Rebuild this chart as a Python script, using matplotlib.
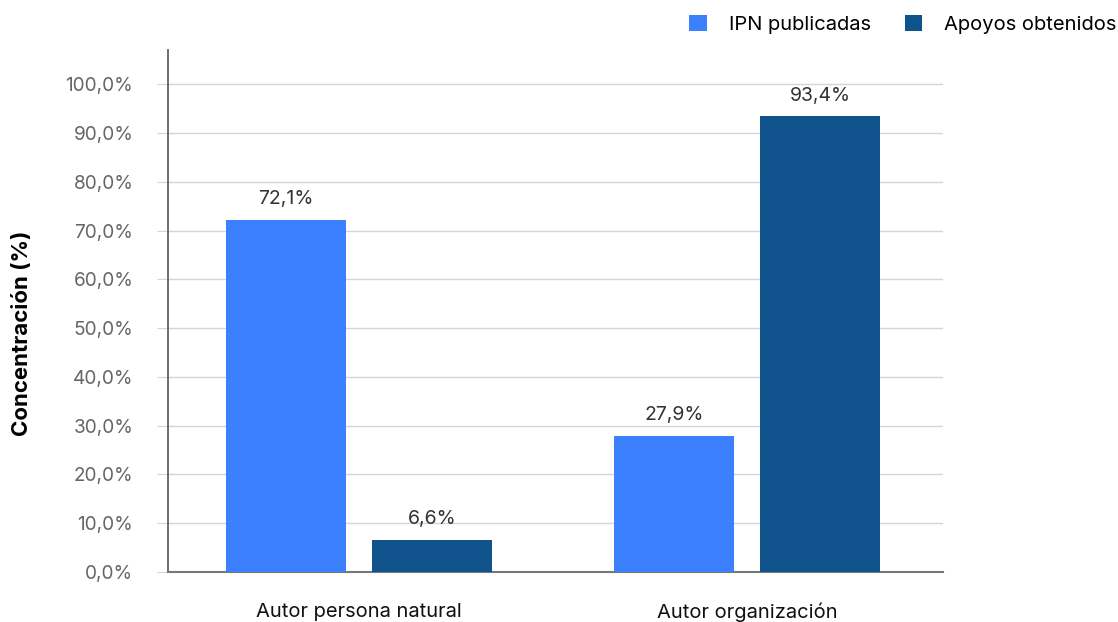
import matplotlib.pyplot as plt
import numpy as np

# data
categories = ["Autor persona natural", "Autor organización"]
series_names = ["IPN publicadas", "Apoyos obtenidos"]
ipn_publicadas = [72.1, 27.9]
apoyos_obtenidos = [6.6, 93.4]
y_ticks = [0, 10, 20, 30, 40, 50, 60, 70, 80, 90, 100]

colors = ["#3d80fe", "#0f528c"]
grid_col = "#d3d3e3"

plt.rcParams['font.family'] = ['Inter', 'DejaVu Sans']

fig = plt.figure(figsize=(11.18, 6.22), dpi=100)
ax = fig.add_axes([0.1503, 0.0804, 0.6932, 0.8392])

x = np.arange(len(categories))
w = 0.309
off = 0.188
b1 = ax.bar(x - off, ipn_publicadas, w, color=colors[0], label=series_names[0], zorder=3)
b2 = ax.bar(x + off, apoyos_obtenidos, w, color=colors[1], label=series_names[1], zorder=3)

# value labels
for bars in (b1, b2):
    for r in bars:
        v = r.get_height()
        ax.annotate(f"{v:.1f}%".replace(".", ","),
                    (r.get_x() + r.get_width() / 2, v),
                    xytext=(0, 8.5), textcoords="offset points",
                    ha="center", va="bottom", fontsize=14, color="#333333")

ax.set_xlim(-0.492, 1.505)
ax.set_ylim(0, 107)
ax.set_yticks(y_ticks)
ax.set_yticklabels([f"{t:.1f}%".replace(".", ",") for t in y_ticks])
ax.set_xticks(x)
ax.set_xticklabels(categories)

ax.grid(axis="y", color=grid_col, linewidth=1, zorder=0)
ax.tick_params(axis="y", length=8, color=grid_col, labelsize=13.7, labelcolor="#666666", pad=17)
ax.tick_params(axis="x", length=0, labelsize=14.5, labelcolor="#111111", pad=22)

for s in ("top", "right"):
    ax.spines[s].set_visible(False)
ax.spines["left"].set_color("#555555")
ax.spines["bottom"].set_color("#777777")
ax.spines["left"].set_linewidth(1.2)
ax.spines["bottom"].set_linewidth(1.5)

ax.set_ylabel("Concentración (%)", fontsize=16, fontweight="bold", color="black")
ax.yaxis.set_label_coords(-0.176, 0.458)

fig.legend(loc="upper right", bbox_to_anchor=(1.015, 1.005), ncol=2, frameon=False,
           fontsize=14.5, handlelength=0.85, handleheight=0.85, handletextpad=1.1,
           columnspacing=1.7)

fig.savefig("out.png", dpi=100)
